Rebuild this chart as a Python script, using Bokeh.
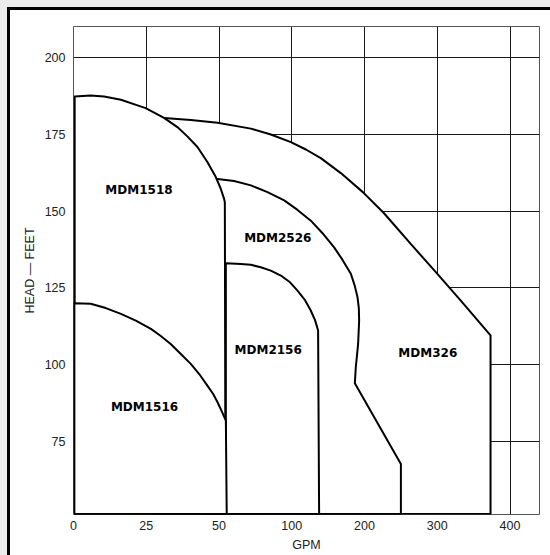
import numpy as np
from bokeh.plotting import figure
from bokeh.models import Range1d, FixedTicker, ColumnDataSource
from bokeh.core.properties import value
from bokeh.embed import file_html
from bokeh.resources import INLINE

# ---- data ----
gpm_ticks = [0, 25, 50, 100, 200, 300, 400]
head_ticks = [75, 100, 125, 150, 175, 200]

mdm326_gpm = [27.0, 31.1, 40.3, 49.5, 71.9, 85.6, 99.4, 119.4, 139.9, 167.4, 197.7,
              226.5, 263.2, 296.2, 332.0, 373.2, 373.2, 27.0]
mdm326_head = [180.4, 180.4, 179.7, 178.8, 176.9, 175.0, 172.5, 170.1, 167.3, 162.4, 156.2,
               149.4, 139.4, 130.6, 120.9, 109.5, 51.3, 51.3]

mdm2526_gpm = [45.0, 49.5, 60.4, 71.9, 83.3, 94.8, 107.9, 126.2, 142.3, 158.2, 169.8, 181.2,
               186.4, 190.4, 192.2, 192.6, 191.2, 188.0, 186.7, 250.0, 250.0, 45.0]
mdm2526_head = [160.5, 160.5, 159.8, 158.4, 156.2, 153.5, 150.4, 146.9, 142.8, 138.2, 134.1, 129.6,
                125.8, 121.9, 118.3, 114.3, 106.7, 99.1, 93.9, 67.6, 51.3, 51.3]

mdm1518_gpm = [0.4, 0.4, 5.9, 10.5, 16.3, 22.0, 24.8, 31.1, 35.7, 39.2, 42.6, 46.0, 48.9,
               51.2, 53.5, 54.0, 54.5]
mdm1518_head = [51.3, 187.4, 187.7, 187.4, 186.3, 184.5, 183.6, 180.4, 177.4, 174.3, 170.9, 166.0, 161.1,
                157.3, 154.0, 152.9, 51.3]

mdm2156_gpm = [54.7, 54.7, 65.0, 71.9, 78.7, 85.6, 92.5, 98.8, 107.9, 117.9, 126.1, 132.1, 136.2, 137.6]
mdm2156_head = [51.3, 133.0, 132.8, 132.5, 131.7, 130.6, 129.0, 126.8, 124.1, 121.1, 117.6, 114.4, 111.1, 51.3]

mdm1516_gpm = [0.3, 0.3, 5.9, 11.1, 16.3, 21.4, 26.6, 30.0, 33.4, 36.7, 40.3, 43.2, 46.0, 48.0,
               49.5, 51.9, 54.7, 55.3]
mdm1516_head = [51.3, 120.0, 119.8, 118.4, 116.5, 114.3, 111.6, 109.3, 106.7, 103.6, 100.2, 96.9, 93.1, 90.4,
                87.7, 84.7, 81.7, 51.3]

label_names = ["MDM1518", "MDM2526", "MDM2156", "MDM1516", "MDM326"]
label_gpm = [22.5, 90.4, 83.8, 24.4, 287.0]
label_head = [157.0, 141.4, 104.6, 86.1, 103.8]

# the GPM axis is drawn with equally spaced ticks (non-linear scale)
tick_pos = list(range(len(gpm_ticks)))


def gx(v):
    return list(np.interp(v, gpm_ticks, tick_pos))


p = figure(frame_width=466, frame_height=488,
           x_range=Range1d(0, 6.405), y_range=Range1d(51.1, 210.2),
           output_backend="svg", toolbar_location=None,
           min_border_left=63, min_border_top=16, min_border_right=11,
           min_border_bottom=41,
           background_fill_color="white", border_fill_color="white")

p.outline_line_color = "#555"
p.outline_line_width = 1

# axes
p.xaxis.ticker = FixedTicker(ticks=tick_pos)
p.xaxis.major_label_overrides = {i: str(g) for i, g in zip(tick_pos, gpm_ticks)}
p.yaxis.ticker = FixedTicker(ticks=head_ticks)
for ax in (p.xaxis[0], p.yaxis[0]):
    ax.axis_line_color = None
    ax.major_tick_line_color = None
    ax.minor_tick_line_color = None
    ax.major_tick_in = 0
    ax.major_tick_out = 0
    ax.major_label_text_font = "Liberation Sans"
    ax.major_label_text_font_size = "12.5px"
    ax.major_label_text_color = "#222"
    ax.axis_label_text_font = "Liberation Sans"
    ax.axis_label_text_font_size = "12.5px"
    ax.axis_label_text_font_style = "normal"
    ax.axis_label_text_color = "#222"
p.xaxis.axis_label = "GPM"
p.yaxis.axis_label = "HEAD — FEET"
p.xaxis.major_label_standoff = 6
p.xaxis.axis_label_standoff = 5
p.yaxis.major_label_standoff = 8
p.yaxis.axis_label_standoff = 5

# grid
p.xgrid.ticker = FixedTicker(ticks=tick_pos)
p.ygrid.ticker = FixedTicker(ticks=head_ticks)
for g in (p.xgrid[0], p.ygrid[0]):
    g.grid_line_color = "#1a1a1a"
    g.grid_line_width = 1

# envelopes (largest first so smaller ones cover shared edges)
for xs, ys in [(mdm326_gpm, mdm326_head), (mdm2526_gpm, mdm2526_head),
               (mdm1518_gpm, mdm1518_head), (mdm2156_gpm, mdm2156_head),
               (mdm1516_gpm, mdm1516_head)]:
    p.patch(gx(xs), ys, fill_color="white", line_color="black", line_width=2,
            line_join="round")

src = ColumnDataSource(dict(x=gx(label_gpm), y=label_head, t=label_names))
p.text(x="x", y="y", text="t", source=src, text_font=value("DejaVu Sans"),
       text_font_style="bold", text_font_size="12px", text_align="center",
       text_baseline="middle", text_color="black")

html = file_html(p, INLINE)
css = ("<style>html{background:#ececec !important;overflow:hidden !important;}"
       "body{position:absolute !important;left:7px;top:7px;margin:0 !important;"
       "padding:0 !important;background:#fff !important;border-left:3px solid #000;"
       "border-top:3px solid #000;height:auto !important;width:auto !important;}</style>")
html = html.replace("</head>", css + "</head>", 1)
open("out.html", "w").write(html)
